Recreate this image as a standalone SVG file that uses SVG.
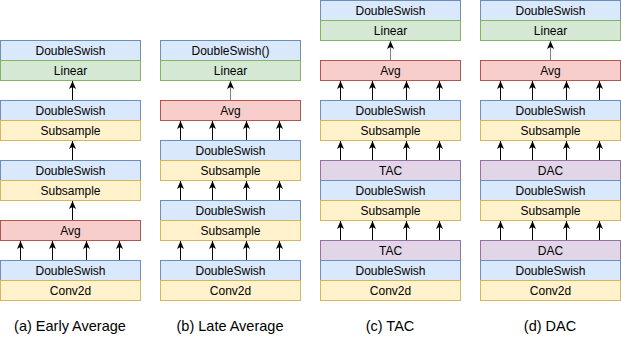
<svg xmlns="http://www.w3.org/2000/svg" width="621" height="341" viewBox="0 0 621 341">
<style>
rect{stroke-width:1}
.ds{fill:#dae8fc;stroke:#6c8ebf}
.li{fill:#d5e8d4;stroke:#82b366}
.ye{fill:#fff2cc;stroke:#d6b656}
.av{fill:#f8cecc;stroke:#b85450}
.pu{fill:#e1d5e7;stroke:#9673a6}
text{font-family:"Liberation Sans",Arial,Helvetica,sans-serif;font-size:12px;fill:#000;text-anchor:middle}
.cap{font-size:14.5px}
.e{stroke:#000;stroke-width:1;fill:none;marker-end:url(#ah)}
.g{stroke:#808080}
</style>
<defs>
<marker id="ah" viewBox="0 0 8 8" refX="8" refY="4" markerWidth="8" markerHeight="8" markerUnits="userSpaceOnUse" orient="auto">
<path d="M0,0.5 L8,4 L0,7.5 L2,4 Z" fill="#000"/>
</marker>
</defs>

<!-- (a) Early Average -->
<g id="a-ds1"><rect class="ds" x="0.5" y="40.5" width="140" height="20"/><text x="70.5" y="54.5">DoubleSwish</text></g>
<g id="a-linear"><rect class="li" x="0.5" y="60.5" width="140" height="20"/><text x="70.5" y="74.5">Linear</text></g>
<g id="a-ds2"><rect class="ds" x="0.5" y="100.5" width="140" height="20"/><text x="70.5" y="114.5">DoubleSwish</text></g>
<g id="a-sub2"><rect class="ye" x="0.5" y="120.5" width="140" height="20"/><text x="70.5" y="134.5">Subsample</text></g>
<g id="a-ds3"><rect class="ds" x="0.5" y="160.5" width="140" height="20"/><text x="70.5" y="174.5">DoubleSwish</text></g>
<g id="a-sub3"><rect class="ye" x="0.5" y="180.5" width="140" height="20"/><text x="70.5" y="194.5">Subsample</text></g>
<g id="a-avg"><rect class="av" x="0.5" y="220.5" width="140" height="20"/><text x="70.5" y="234.5">Avg</text></g>
<g id="a-ds4"><rect class="ds" x="0.5" y="260.5" width="140" height="20"/><text x="70.5" y="274.5">DoubleSwish</text></g>
<g id="a-conv"><rect class="ye" x="0.5" y="280.5" width="140" height="20"/><text x="70.5" y="294.5">Conv2d</text></g>
<text class="cap" x="70" y="331">(a) Early Average</text>

<!-- (b) Late Average -->
<g id="b-ds1"><rect class="ds" x="160.5" y="40.5" width="140" height="20"/><text x="230.5" y="54.5">DoubleSwish()</text></g>
<g id="b-linear"><rect class="li" x="160.5" y="60.5" width="140" height="20"/><text x="230.5" y="74.5">Linear</text></g>
<g id="b-avg"><rect class="av" x="160.5" y="100.5" width="140" height="20"/><text x="230.5" y="114.5">Avg</text></g>
<g id="b-ds2"><rect class="ds" x="160.5" y="140.5" width="140" height="20"/><text x="230.5" y="154.5">DoubleSwish</text></g>
<g id="b-sub2"><rect class="ye" x="160.5" y="160.5" width="140" height="20"/><text x="230.5" y="174.5">Subsample</text></g>
<g id="b-ds3"><rect class="ds" x="160.5" y="200.5" width="140" height="20"/><text x="230.5" y="214.5">DoubleSwish</text></g>
<g id="b-sub3"><rect class="ye" x="160.5" y="220.5" width="140" height="20"/><text x="230.5" y="234.5">Subsample</text></g>
<g id="b-ds4"><rect class="ds" x="160.5" y="260.5" width="140" height="20"/><text x="230.5" y="274.5">DoubleSwish</text></g>
<g id="b-conv"><rect class="ye" x="160.5" y="280.5" width="140" height="20"/><text x="230.5" y="294.5">Conv2d</text></g>
<text class="cap" x="230" y="331">(b) Late Average</text>

<!-- (c) TAC -->
<g id="c-ds1"><rect class="ds" x="320.5" y="0.5" width="140" height="20"/><text x="390.5" y="14.5">DoubleSwish</text></g>
<g id="c-linear"><rect class="li" x="320.5" y="20.5" width="140" height="20"/><text x="390.5" y="34.5">Linear</text></g>
<g id="c-avg"><rect class="av" x="320.5" y="60.5" width="140" height="20"/><text x="390.5" y="74.5">Avg</text></g>
<g id="c-ds2"><rect class="ds" x="320.5" y="100.5" width="140" height="20"/><text x="390.5" y="114.5">DoubleSwish</text></g>
<g id="c-sub2"><rect class="ye" x="320.5" y="120.5" width="140" height="20"/><text x="390.5" y="134.5">Subsample</text></g>
<g id="c-tac3"><rect class="pu" x="320.5" y="160.5" width="140" height="20"/><text x="390.5" y="174.5">TAC</text></g>
<g id="c-ds3"><rect class="ds" x="320.5" y="180.5" width="140" height="20"/><text x="390.5" y="194.5">DoubleSwish</text></g>
<g id="c-sub3"><rect class="ye" x="320.5" y="200.5" width="140" height="20"/><text x="390.5" y="214.5">Subsample</text></g>
<g id="c-tac4"><rect class="pu" x="320.5" y="240.5" width="140" height="20"/><text x="390.5" y="254.5">TAC</text></g>
<g id="c-ds4"><rect class="ds" x="320.5" y="260.5" width="140" height="20"/><text x="390.5" y="274.5">DoubleSwish</text></g>
<g id="c-conv"><rect class="ye" x="320.5" y="280.5" width="140" height="20"/><text x="390.5" y="294.5">Conv2d</text></g>
<text class="cap" x="390" y="331">(c) TAC</text>

<!-- (d) DAC -->
<g id="d-ds1"><rect class="ds" x="480.5" y="0.5" width="140" height="20"/><text x="550.5" y="14.5">DoubleSwish</text></g>
<g id="d-linear"><rect class="li" x="480.5" y="20.5" width="140" height="20"/><text x="550.5" y="34.5">Linear</text></g>
<g id="d-avg"><rect class="av" x="480.5" y="60.5" width="140" height="20"/><text x="550.5" y="74.5">Avg</text></g>
<g id="d-ds2"><rect class="ds" x="480.5" y="100.5" width="140" height="20"/><text x="550.5" y="114.5">DoubleSwish</text></g>
<g id="d-sub2"><rect class="ye" x="480.5" y="120.5" width="140" height="20"/><text x="550.5" y="134.5">Subsample</text></g>
<g id="d-dac3"><rect class="pu" x="480.5" y="160.5" width="140" height="20"/><text x="550.5" y="174.5">DAC</text></g>
<g id="d-ds3"><rect class="ds" x="480.5" y="180.5" width="140" height="20"/><text x="550.5" y="194.5">DoubleSwish</text></g>
<g id="d-sub3"><rect class="ye" x="480.5" y="200.5" width="140" height="20"/><text x="550.5" y="214.5">Subsample</text></g>
<g id="d-dac4"><rect class="pu" x="480.5" y="240.5" width="140" height="20"/><text x="550.5" y="254.5">DAC</text></g>
<g id="d-ds4"><rect class="ds" x="480.5" y="260.5" width="140" height="20"/><text x="550.5" y="274.5">DoubleSwish</text></g>
<g id="d-conv"><rect class="ye" x="480.5" y="280.5" width="140" height="20"/><text x="550.5" y="294.5">Conv2d</text></g>
<text class="cap" x="550" y="331">(d) DAC</text>

<g id="connectors">
<!-- a -->
<path class="e" d="M72.5,100 V81"/>
<path class="e" d="M72.5,160 V141"/>
<path class="e" d="M72.5,220 V201"/>
<path class="e" d="M20.5,260 V241"/><path class="e" d="M52.5,260 V241"/><path class="e" d="M86.5,260 V241"/><path class="e" d="M119.5,260 V241"/>
<!-- b -->
<path class="e g" d="M230.5,100 V81"/>
<path class="e" d="M180.5,140 V121"/><path class="e" d="M212.5,140 V121"/><path class="e" d="M246.5,140 V121"/><path class="e" d="M279.5,140 V121"/>
<path class="e" d="M180.5,200 V181"/><path class="e" d="M212.5,200 V181"/><path class="e" d="M246.5,200 V181"/><path class="e" d="M279.5,200 V181"/>
<path class="e" d="M180.5,260 V241"/><path class="e" d="M212.5,260 V241"/><path class="e" d="M246.5,260 V241"/><path class="e" d="M279.5,260 V241"/>
<!-- c -->
<path class="e g" d="M390.5,60 V41"/>
<path class="e" d="M340.5,100 V81"/><path class="e" d="M372.5,100 V81"/><path class="e" d="M406.5,100 V81"/><path class="e" d="M439.5,100 V81"/>
<path class="e" d="M340.5,160 V141"/><path class="e" d="M372.5,160 V141"/><path class="e" d="M406.5,160 V141"/><path class="e" d="M439.5,160 V141"/>
<path class="e" d="M340.5,240 V221"/><path class="e" d="M372.5,240 V221"/><path class="e" d="M406.5,240 V221"/><path class="e" d="M439.5,240 V221"/>
<!-- d -->
<path class="e g" d="M550.5,60 V41"/>
<path class="e" d="M500.5,100 V81"/><path class="e" d="M532.5,100 V81"/><path class="e" d="M566.5,100 V81"/><path class="e" d="M599.5,100 V81"/>
<path class="e" d="M500.5,160 V141"/><path class="e" d="M532.5,160 V141"/><path class="e" d="M566.5,160 V141"/><path class="e" d="M599.5,160 V141"/>
<path class="e" d="M500.5,240 V221"/><path class="e" d="M532.5,240 V221"/><path class="e" d="M566.5,240 V221"/><path class="e" d="M599.5,240 V221"/>
</g>
</svg>
